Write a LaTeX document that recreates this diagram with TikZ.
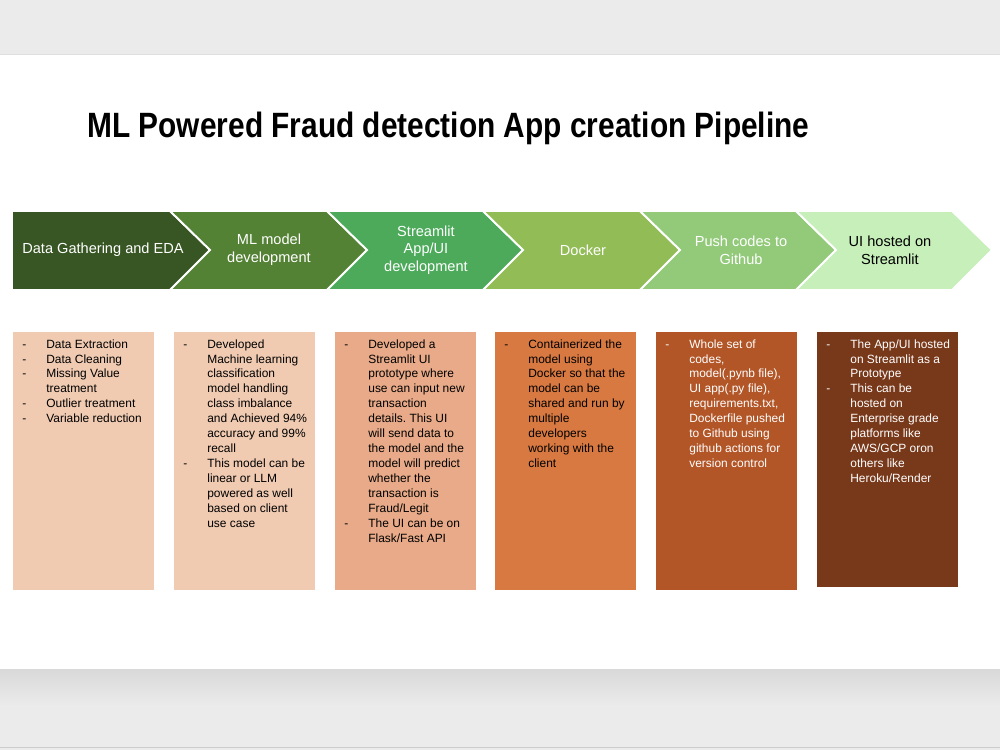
\documentclass[tikz,border=0pt]{standalone}
\usepackage{fontspec}
\usepackage{array}
\setmainfont{Liberation Sans}
\frenchspacing

\definecolor{stepA}{RGB}{55,86,35}
\definecolor{stepB}{RGB}{84,130,53}
\definecolor{stepC}{RGB}{76,170,90}
\definecolor{stepD}{RGB}{146,189,86}
\definecolor{stepE}{RGB}{146,202,122}
\definecolor{stepF}{RGB}{199,239,186}
\definecolor{boxA}{RGB}{240,203,178}
\definecolor{boxC}{RGB}{232,170,136}
\definecolor{boxD}{RGB}{216,121,66}
\definecolor{boxE}{RGB}{178,85,39}
\definecolor{boxF}{RGB}{120,56,26}
\definecolor{pagegray}{RGB}{235,235,235}

\tikzset{
	chevron/.style={draw=white, line width=1.1pt, line join=miter},
	steplabel/.style={font=\fontsize{8.3}{10}\selectfont, align=center, text=white},
	descbox/.style={anchor=north west, inner sep=0pt, font=\fontsize{6.8}{8.5}\selectfont}
}
\newcommand{\desclist}[2][51.6mm]{\parbox[t][#1][t]{28.2mm}{\vspace*{3pt}%
	\begin{tabular}[t]{@{\hspace{1.8mm}}p{4.8mm}@{}>{\raggedright\arraybackslash}p{21.6mm}@{}}#2\end{tabular}}}

\begin{document}
\begin{tikzpicture}[x=0.2mm,y=-0.2mm]
\useasboundingbox (0,0) rectangle (1000,750);
\fill[pagegray] (0,0) rectangle (1000,750);
\draw[gray!25] (0,54.5) -- (1000,54.5);
\fill[white] (0,55) rectangle (1000,669);
\shade[top color=gray!30, bottom color=pagegray] (0,669) rectangle (1000,705);
\draw[gray!40] (0,747.5) -- (1000,747.5);

\node[anchor=base west, inner sep=0pt, font=\fontsize{20}{24}\selectfont\bfseries] (title) at (87,137)
	{\scalebox{0.85}[1]{ML Powered Fraud detection App creation Pipeline}};

\filldraw[chevron, fill=stepA] (12,211) -- (170,211) -- (210,250) -- (170,290) -- (12,290) -- cycle;
\filldraw[chevron, fill=stepB] (170,211) -- (327,211) -- (367,250) -- (327,290) -- (170,290) -- (210,250) -- cycle;
\filldraw[chevron, fill=stepC] (327,211) -- (483,211) -- (523,250) -- (483,290) -- (327,290) -- (367,250) -- cycle;
\filldraw[chevron, fill=stepD] (483,211) -- (640,211) -- (680,250) -- (640,290) -- (483,290) -- (523,250) -- cycle;
\filldraw[chevron, fill=stepE] (640,211) -- (796,211) -- (836,250) -- (796,290) -- (640,290) -- (680,250) -- cycle;
\filldraw[chevron, fill=stepF] (796,211) -- (952,211) -- (992,250) -- (952,290) -- (796,290) -- (836,250) -- cycle;

\node[steplabel] (gather) at (103,250) {Data Gathering and EDA};
\node[steplabel] (model) at (269,250) {ML model\\development};
\node[steplabel] (ui) at (426,250) {Streamlit\\App/UI\\development};
\node[steplabel] (docker) at (583,250) {Docker};
\node[steplabel] (push) at (741,250) {Push codes to\\Github};
\node[steplabel, text=black] (host) at (890,250) {UI hosted on\\Streamlit};

\node[descbox, fill=boxA] (gatherbox) at (13,332) {\desclist{
	- & Data Extraction\\
	- & Data Cleaning\\
	- & Missing Value\newline treatment\\
	- & Outlier treatment\\
	- & Variable reduction}};
\node[descbox, fill=boxA] (modelbox) at (174,332) {\desclist{
	- & Developed\newline Machine learning\newline classification\newline model handling\newline class imbalance\newline and Achieved 94\%\newline accuracy and 99\%\newline recall\\
	- & This model can be\newline linear or LLM\newline powered as well\newline based on client\newline use case}};
\node[descbox, fill=boxC] (uibox) at (335,332) {\desclist{
	- & Developed a\newline Streamlit UI\newline prototype where\newline use can input new\newline transaction\newline details. This UI\newline will send data to\newline the model and the\newline model will predict\newline whether the\newline transaction is\newline Fraud/Legit\\
	- & The UI can be on\newline Flask/Fast API}};
\node[descbox, fill=boxD] (dockerbox) at (495,332) {\desclist{
	- & Containerized the\newline model using\newline Docker so that the\newline model can be\newline shared and run by\newline multiple\newline developers\newline working with the\newline client}};
\node[descbox, fill=boxE, text=white] (pushbox) at (656,332) {\desclist{
	- & Whole set of\newline codes,\newline model(.pynb file),\newline UI app(.py file),\newline requirements.txt,\newline Dockerfile pushed\newline to Github using\newline github actions for\newline version control}};
\node[descbox, fill=boxF, text=white] (hostbox) at (817,332) {\desclist[51mm]{
	- & The App/UI hosted\newline on Streamlit as a\newline Prototype\\
	- & This can be\newline hosted on\newline Enterprise grade\newline platforms like\newline AWS/GCP oron\newline others like\newline Heroku/Render}};

\end{tikzpicture}
\end{document}
